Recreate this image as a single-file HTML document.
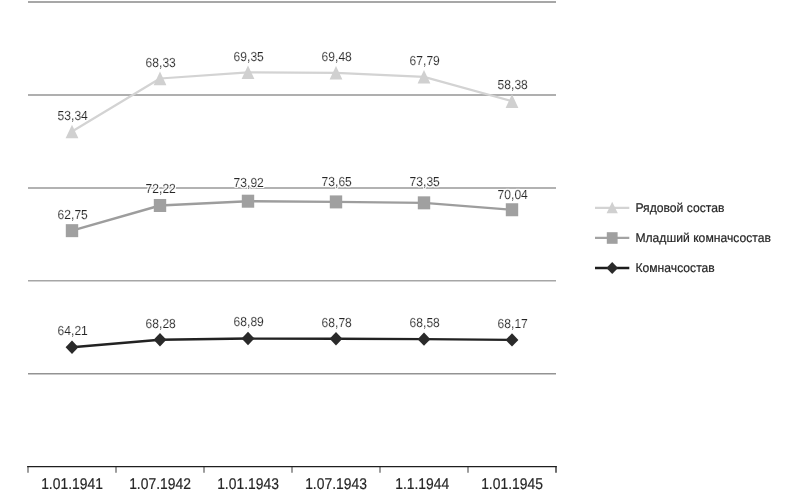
<!DOCTYPE html><html><head><meta charset="utf-8"><style>html,body{margin:0;padding:0;background:#fff;}svg{display:block;will-change:transform}text{font-family:"Liberation Sans",sans-serif;text-rendering:geometricPrecision;}</style></head><body>
<svg width="790" height="498" viewBox="0 0 790 498">
<defs><filter id="halo" x="-10%" y="-40%" width="120%" height="180%"><feMorphology in="SourceAlpha" operator="dilate" radius="0.9" result="d"/><feFlood flood-color="#ffffff"/><feComposite in2="d" operator="in"/><feMerge><feMergeNode/><feMergeNode in="SourceGraphic"/></feMerge></filter></defs>
<line x1="28.0" y1="2.0" x2="556.0" y2="2.0" stroke="#8a8a8a" stroke-width="1.5"/>
<line x1="28.0" y1="94.95" x2="556.0" y2="94.95" stroke="#959595" stroke-width="1.5"/>
<line x1="28.0" y1="187.9" x2="556.0" y2="187.9" stroke="#989898" stroke-width="1.5"/>
<line x1="28.0" y1="280.85" x2="556.0" y2="280.85" stroke="#a6a6a6" stroke-width="1.5"/>
<line x1="28.0" y1="373.75" x2="556.0" y2="373.75" stroke="#939393" stroke-width="1.5"/>
<line x1="28.00" y1="466.6" x2="28.00" y2="472.7" stroke="#8c8c8c" stroke-width="1.7"/>
<line x1="116.00" y1="466.6" x2="116.00" y2="472.7" stroke="#8c8c8c" stroke-width="1.7"/>
<line x1="204.00" y1="466.6" x2="204.00" y2="472.7" stroke="#8c8c8c" stroke-width="1.7"/>
<line x1="292.00" y1="466.6" x2="292.00" y2="472.7" stroke="#8c8c8c" stroke-width="1.7"/>
<line x1="380.00" y1="466.6" x2="380.00" y2="472.7" stroke="#8c8c8c" stroke-width="1.7"/>
<line x1="468.00" y1="466.6" x2="468.00" y2="472.7" stroke="#8c8c8c" stroke-width="1.7"/>
<line x1="556.00" y1="466.6" x2="556.00" y2="472.7" stroke="#555" stroke-width="1.7"/>
<line x1="27.15" y1="466.6" x2="556.85" y2="466.6" stroke="#1e1e1e" stroke-width="1.4"/>
<text transform="translate(72.00,488.60) scale(0.895,1)" font-size="15.5" text-anchor="middle" fill="#262626" stroke="#262626" stroke-width="0.2">1.01.1941</text>
<text transform="translate(160.00,488.60) scale(0.895,1)" font-size="15.5" text-anchor="middle" fill="#262626" stroke="#262626" stroke-width="0.2">1.07.1942</text>
<text transform="translate(248.00,488.60) scale(0.895,1)" font-size="15.5" text-anchor="middle" fill="#262626" stroke="#262626" stroke-width="0.2">1.01.1943</text>
<text transform="translate(336.00,488.60) scale(0.895,1)" font-size="15.5" text-anchor="middle" fill="#262626" stroke="#262626" stroke-width="0.2">1.07.1943</text>
<text transform="translate(422.20,488.60) scale(0.895,1)" font-size="15.5" text-anchor="middle" fill="#262626" stroke="#262626" stroke-width="0.2">1.1.1944</text>
<text transform="translate(512.00,488.60) scale(0.895,1)" font-size="15.5" text-anchor="middle" fill="#262626" stroke="#262626" stroke-width="0.2">1.01.1945</text>
<polyline points="72.00,131.53 160.00,78.51 248.00,72.32 336.00,72.79 424.00,76.86 512.00,101.26" fill="none" stroke="#d3d3d3" stroke-width="2.2" stroke-linejoin="round"/>
<path d="M72.00,124.63 L78.40,138.23 L65.60,138.23 Z" fill="#d0d0d0"/>
<text transform="translate(72.70,119.90) scale(0.93,1)" font-size="13" text-anchor="middle" fill="#262626" stroke="#262626" stroke-width="0.2" filter="url(#halo)">53,34</text>
<path d="M160.00,71.61 L166.40,85.21 L153.60,85.21 Z" fill="#d0d0d0"/>
<text transform="translate(160.70,66.50) scale(0.93,1)" font-size="13" text-anchor="middle" fill="#262626" stroke="#262626" stroke-width="0.2" filter="url(#halo)">68,33</text>
<path d="M248.00,65.42 L254.40,79.02 L241.60,79.02 Z" fill="#d0d0d0"/>
<text transform="translate(248.70,60.50) scale(0.93,1)" font-size="13" text-anchor="middle" fill="#262626" stroke="#262626" stroke-width="0.2" filter="url(#halo)">69,35</text>
<path d="M336.00,65.89 L342.40,79.49 L329.60,79.49 Z" fill="#d0d0d0"/>
<text transform="translate(336.70,61.20) scale(0.93,1)" font-size="13" text-anchor="middle" fill="#262626" stroke="#262626" stroke-width="0.2" filter="url(#halo)">69,48</text>
<path d="M424.00,69.96 L430.40,83.56 L417.60,83.56 Z" fill="#d0d0d0"/>
<text transform="translate(424.70,64.90) scale(0.93,1)" font-size="13" text-anchor="middle" fill="#262626" stroke="#262626" stroke-width="0.2" filter="url(#halo)">67,79</text>
<path d="M512.00,94.36 L518.40,107.96 L505.60,107.96 Z" fill="#d0d0d0"/>
<text transform="translate(512.70,88.90) scale(0.93,1)" font-size="13" text-anchor="middle" fill="#262626" stroke="#262626" stroke-width="0.2" filter="url(#halo)">58,38</text>
<polyline points="72.00,230.66 160.00,205.49 248.00,201.20 336.00,201.91 424.00,202.84 512.00,209.75" fill="none" stroke="#9d9d9d" stroke-width="2.4" stroke-linejoin="round"/>
<rect x="65.80" y="224.16" width="12.4" height="13" fill="#a0a0a0"/>
<text transform="translate(72.70,219.10) scale(0.93,1)" font-size="13" text-anchor="middle" fill="#262626" stroke="#262626" stroke-width="0.2" filter="url(#halo)">62,75</text>
<rect x="153.80" y="198.99" width="12.4" height="13" fill="#a0a0a0"/>
<text transform="translate(160.70,192.50) scale(0.93,1)" font-size="13" text-anchor="middle" fill="#262626" stroke="#262626" stroke-width="0.2" filter="url(#halo)">72,22</text>
<rect x="241.80" y="194.70" width="12.4" height="13" fill="#a0a0a0"/>
<text transform="translate(248.70,186.60) scale(0.93,1)" font-size="13" text-anchor="middle" fill="#262626" stroke="#262626" stroke-width="0.2" filter="url(#halo)">73,92</text>
<rect x="329.80" y="195.41" width="12.4" height="13" fill="#a0a0a0"/>
<text transform="translate(336.70,186.30) scale(0.93,1)" font-size="13" text-anchor="middle" fill="#262626" stroke="#262626" stroke-width="0.2" filter="url(#halo)">73,65</text>
<rect x="417.80" y="196.34" width="12.4" height="13" fill="#a0a0a0"/>
<text transform="translate(424.70,186.40) scale(0.93,1)" font-size="13" text-anchor="middle" fill="#262626" stroke="#262626" stroke-width="0.2" filter="url(#halo)">73,35</text>
<rect x="505.80" y="203.25" width="12.4" height="13" fill="#a0a0a0"/>
<text transform="translate(512.70,198.70) scale(0.93,1)" font-size="13" text-anchor="middle" fill="#262626" stroke="#262626" stroke-width="0.2" filter="url(#halo)">70,04</text>
<polyline points="72.00,347.27 160.00,339.71 248.00,338.57 336.00,338.78 424.00,339.15 512.00,339.91" fill="none" stroke="#222222" stroke-width="2.4" stroke-linejoin="round"/>
<path d="M72.00,340.57 L78.40,347.27 L72.00,353.97 L65.60,347.27 Z" fill="#2a2a2a"/>
<text transform="translate(72.70,335.10) scale(0.93,1)" font-size="13" text-anchor="middle" fill="#262626" stroke="#262626" stroke-width="0.2" filter="url(#halo)">64,21</text>
<path d="M160.00,333.01 L166.40,339.71 L160.00,346.41 L153.60,339.71 Z" fill="#2a2a2a"/>
<text transform="translate(160.70,327.90) scale(0.93,1)" font-size="13" text-anchor="middle" fill="#262626" stroke="#262626" stroke-width="0.2" filter="url(#halo)">68,28</text>
<path d="M248.00,331.87 L254.40,338.57 L248.00,345.27 L241.60,338.57 Z" fill="#2a2a2a"/>
<text transform="translate(248.70,326.40) scale(0.93,1)" font-size="13" text-anchor="middle" fill="#262626" stroke="#262626" stroke-width="0.2" filter="url(#halo)">68,89</text>
<path d="M336.00,332.08 L342.40,338.78 L336.00,345.48 L329.60,338.78 Z" fill="#2a2a2a"/>
<text transform="translate(336.70,326.60) scale(0.93,1)" font-size="13" text-anchor="middle" fill="#262626" stroke="#262626" stroke-width="0.2" filter="url(#halo)">68,78</text>
<path d="M424.00,332.45 L430.40,339.15 L424.00,345.85 L417.60,339.15 Z" fill="#2a2a2a"/>
<text transform="translate(424.70,327.20) scale(0.93,1)" font-size="13" text-anchor="middle" fill="#262626" stroke="#262626" stroke-width="0.2" filter="url(#halo)">68,58</text>
<path d="M512.00,333.21 L518.40,339.91 L512.00,346.61 L505.60,339.91 Z" fill="#2a2a2a"/>
<text transform="translate(512.70,327.90) scale(0.93,1)" font-size="13" text-anchor="middle" fill="#262626" stroke="#262626" stroke-width="0.2" filter="url(#halo)">68,17</text>
<line x1="595" y1="207.8" x2="629.3" y2="207.8" stroke="#d3d3d3" stroke-width="2.3"/>
<path d="M612.2,201.70000000000002 L617.8000000000001,213.3 L606.6,213.3 Z" fill="#d0d0d0"/>
<text transform="translate(635.40,212.00) scale(0.965,1)" font-size="12.6" text-anchor="start" fill="#262626" stroke="#262626" stroke-width="0.2">Рядовой состав</text>
<line x1="595" y1="237.8" x2="629.3" y2="237.8" stroke="#a3a3a3" stroke-width="2.3"/>
<rect x="606.8000000000001" y="232.20000000000002" width="10.8" height="11.6" fill="#a0a0a0"/>
<text transform="translate(635.40,242.00) scale(0.965,1)" font-size="12.6" text-anchor="start" fill="#262626" stroke="#262626" stroke-width="0.2">Младший комначсостав</text>
<line x1="595" y1="268.0" x2="629.3" y2="268.0" stroke="#1c1c1c" stroke-width="2.7"/>
<path d="M612.2,262.0 L618.0,268.0 L612.2,274.0 L606.4000000000001,268.0 Z" fill="#2a2a2a"/>
<text transform="translate(635.40,272.20) scale(0.965,1)" font-size="12.6" text-anchor="start" fill="#262626" stroke="#262626" stroke-width="0.2">Комначсостав</text>
</svg></body></html>
